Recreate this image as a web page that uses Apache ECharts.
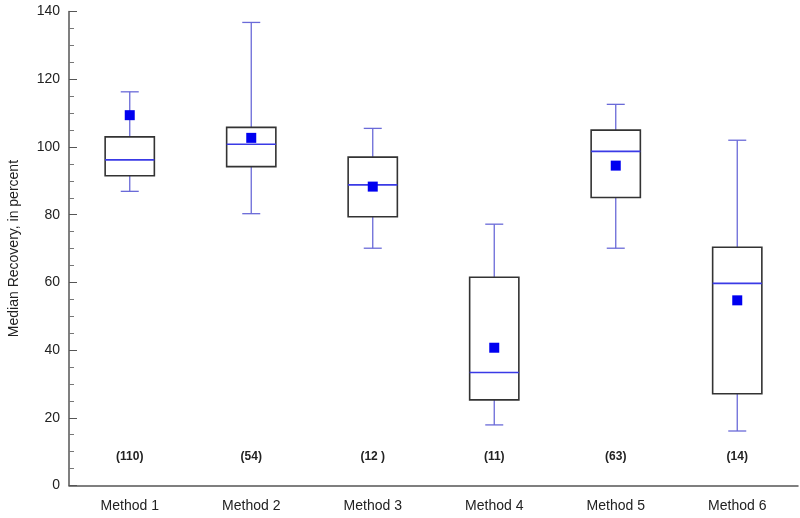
<!DOCTYPE html>
<html><head><meta charset="utf-8">
<script src="https://cdn.jsdelivr.net/npm/echarts@6/dist/echarts.min.js"></script>
<style>html,body{margin:0;padding:0;background:#fff}#c{width:800px;height:518px}</style>
</head><body><div id="c"></div>
<script>
var categories = ['Method 1','Method 2','Method 3','Method 4','Method 5','Method 6'];
var whiskerLow = [86.9, 80.3, 70.1, 17.9, 70.1, 16.1];
var q1 = [91.5, 94.2, 79.4, 25.3, 85.1, 27.1];
var median = [96.2, 100.8, 88.8, 33.4, 98.7, 59.7];
var q3 = [103.0, 105.8, 97.0, 61.5, 105.0, 70.4];
var whiskerHigh = [116.3, 136.8, 105.5, 77.2, 112.6, 102.0];
var means = [109.4, 102.7, 88.3, 40.7, 94.5, 54.7];
var counts = ['(110)','(54)','(12 )','(11)','(63)','(14)'];

var boxData = categories.map(function(c,i){return [i, whiskerLow[i], q1[i], median[i], q3[i], whiskerHigh[i]];});
var chart = echarts.init(document.getElementById('c'));
var font = 'Liberation Sans, Arial, sans-serif';
chart.setOption({
  animation:false,
  grid:{left:69,right:2,top:11.6,bottom:32.5,containLabel:false,outerBoundsMode:'none'},
  xAxis:{type:'category',data:categories,boundaryGap:true,
    axisLine:{lineStyle:{color:'#555',width:1.5}},
    axisTick:{inside:true,length:5,lineStyle:{color:'#555'}},
    axisLabel:{color:'#222',fontSize:14,fontFamily:font,margin:14},
    splitLine:{show:false}},
  yAxis:{type:'value',min:0,max:140,interval:20,
    name:'Median Recovery, in percent',nameLocation:'middle',nameGap:48,
    nameTextStyle:{color:'#222',fontSize:14,fontFamily:font},
    axisLine:{show:true,lineStyle:{color:'#555',width:1.5}},
    axisTick:{show:true,inside:true,length:8,lineStyle:{color:'#555'}},
    minorTick:{show:true,splitNumber:4,length:5,lineStyle:{color:'#777'}},
    axisLabel:{color:'#222',fontSize:14,fontFamily:font,margin:9},
    splitLine:{show:false}},
  series:[
    {type:'custom',data:boxData,z:2,
     renderItem:function(params,api){
       var i=api.value(0);
       var lo=api.coord([i,api.value(1)]), b1=api.coord([i,api.value(2)]), md=api.coord([i,api.value(3)]),
           b3=api.coord([i,api.value(4)]), hi=api.coord([i,api.value(5)]);
       var bw=api.size([1,0])[0]*0.405, cw=18, x=lo[0];
       var wl={stroke:'#6a6ad8',lineWidth:1.3};
       return {type:'group',children:[
         {type:'line',shape:{x1:x,y1:hi[1],x2:x,y2:b3[1]},style:wl},
         {type:'line',shape:{x1:x,y1:b1[1],x2:x,y2:lo[1]},style:wl},
         {type:'line',shape:{x1:x-cw/2,y1:hi[1],x2:x+cw/2,y2:hi[1]},style:wl},
         {type:'line',shape:{x1:x-cw/2,y1:lo[1],x2:x+cw/2,y2:lo[1]},style:wl},
         {type:'rect',shape:{x:x-bw/2,y:b3[1],width:bw,height:b1[1]-b3[1]},style:{fill:'#fff',stroke:'#333',lineWidth:1.6}},
         {type:'line',shape:{x1:x-bw/2,y1:md[1],x2:x+bw/2,y2:md[1]},style:{stroke:'#3a3ae6',lineWidth:1.6}}
       ]};
     }},
    {type:'scatter',data:means.map(function(v,i){return [i,v];}),symbol:'rect',symbolSize:10,
     itemStyle:{color:'#0000f0',opacity:1},z:3},
    {type:'custom',data:counts.map(function(t,i){return [i,0];}),z:3,
     renderItem:function(params,api){
       var p=api.coord([api.value(0),0]);
       return {type:'text',style:{text:counts[params.dataIndex],x:p[0],y:p[1]-29,align:'center',verticalAlign:'middle',
         font:'bold 12px '+font,fill:'#222'}};
     }}
  ]
});
</script></body></html>
